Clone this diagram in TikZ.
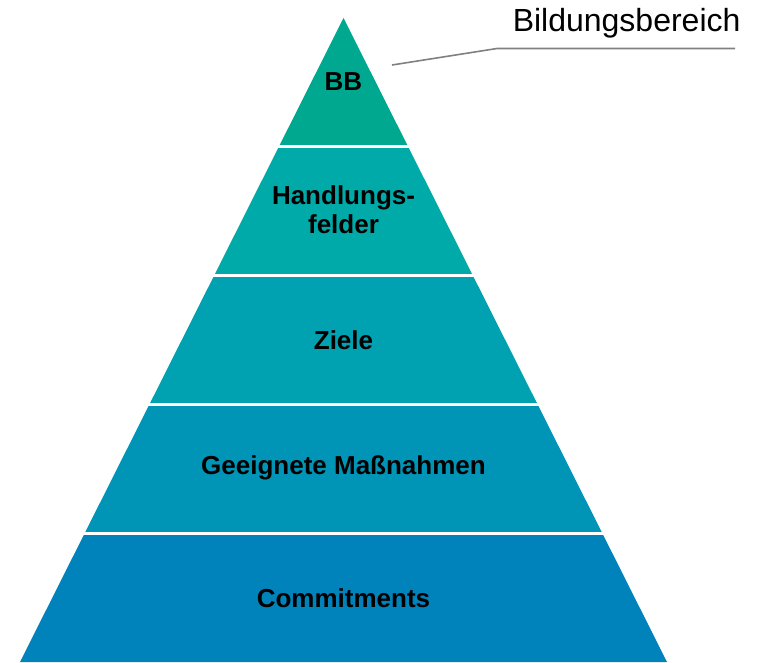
\documentclass[tikz,border=0pt]{standalone}
\usepackage{fontspec}
\setmainfont{Liberation Sans}
\usepackage{tikz}
\usetikzlibrary{calc,positioning}

\definecolor{layerA}{RGB}{0,168,143}
\definecolor{layerB}{RGB}{0,170,168}
\definecolor{layerC}{RGB}{0,162,178}
\definecolor{layerD}{RGB}{0,148,182}
\definecolor{layerE}{RGB}{0,130,186}
\definecolor{notegray}{RGB}{128,128,128}

\begin{document}
\begin{tikzpicture}[x=1pt,y=-1pt]
	\tikzset{every node/.style={font=\fontsize{26}{29}\selectfont\bfseries,align=center}}
	\tikzset{gapline/.style={white,line width=3pt}}
	\tikzset{noteline/.style={notegray,line width=1.6pt}}
	\useasboundingbox (0,0) rectangle (758,662);
	% corners of the pyramid
	\coordinate (apex) at (343.5,18);
	\coordinate (bl) at (20,662);
	\coordinate (br) at (667,662);
	\coordinate (l1) at ($(apex)!0.2!(bl)$);   \coordinate (r1) at ($(apex)!0.2!(br)$);
	\coordinate (l2) at ($(apex)!0.4!(bl)$);   \coordinate (r2) at ($(apex)!0.4!(br)$);
	\coordinate (l3) at ($(apex)!0.6!(bl)$);   \coordinate (r3) at ($(apex)!0.6!(br)$);
	\coordinate (l4) at ($(apex)!0.8!(bl)$);   \coordinate (r4) at ($(apex)!0.8!(br)$);
	% layers
	\fill[layerA] (apex) -- (r1) -- (l1) -- cycle;
	\fill[layerB] (l1) -- (r1) -- (r2) -- (l2) -- cycle;
	\fill[layerC] (l2) -- (r2) -- (r3) -- (l3) -- cycle;
	\fill[layerD] (l3) -- (r3) -- (r4) -- (l4) -- cycle;
	\fill[layerE] (l4) -- (r4) -- (br) -- (bl) -- cycle;
	\draw[gapline] ($(l1)+(-4,0)$) -- ($(r1)+(4,0)$);
	\draw[gapline] ($(l2)+(-4,0)$) -- ($(r2)+(4,0)$);
	\draw[gapline] ($(l3)+(-4,0)$) -- ($(r3)+(4,0)$);
	\draw[gapline] ($(l4)+(-4,0)$) -- ($(r4)+(4,0)$);
	% labels
	\node (bb) at (343.5,82) {BB};
	\node (hf) at (343.5,210) {Handlungs-\\felder};
	\node (ziele) at (343.5,340) {Ziele};
	\node (massn) at (343.5,468) {Geeignete Maßnahmen};
	\node (commit) at (343.5,598) {Commitments};
	% callout
	\node[font=\fontsize{32}{36}\selectfont,anchor=base east] (bbnote) at (744,31) {Bildungsbereich};
	\coordinate (tip) at (392,65);
	\coordinate (knee) at (497,48.5);
	\coordinate (noteend) at (735,48.5);
	\draw[noteline] (tip) -- (knee) -- (noteend);
\end{tikzpicture}
\end{document}
